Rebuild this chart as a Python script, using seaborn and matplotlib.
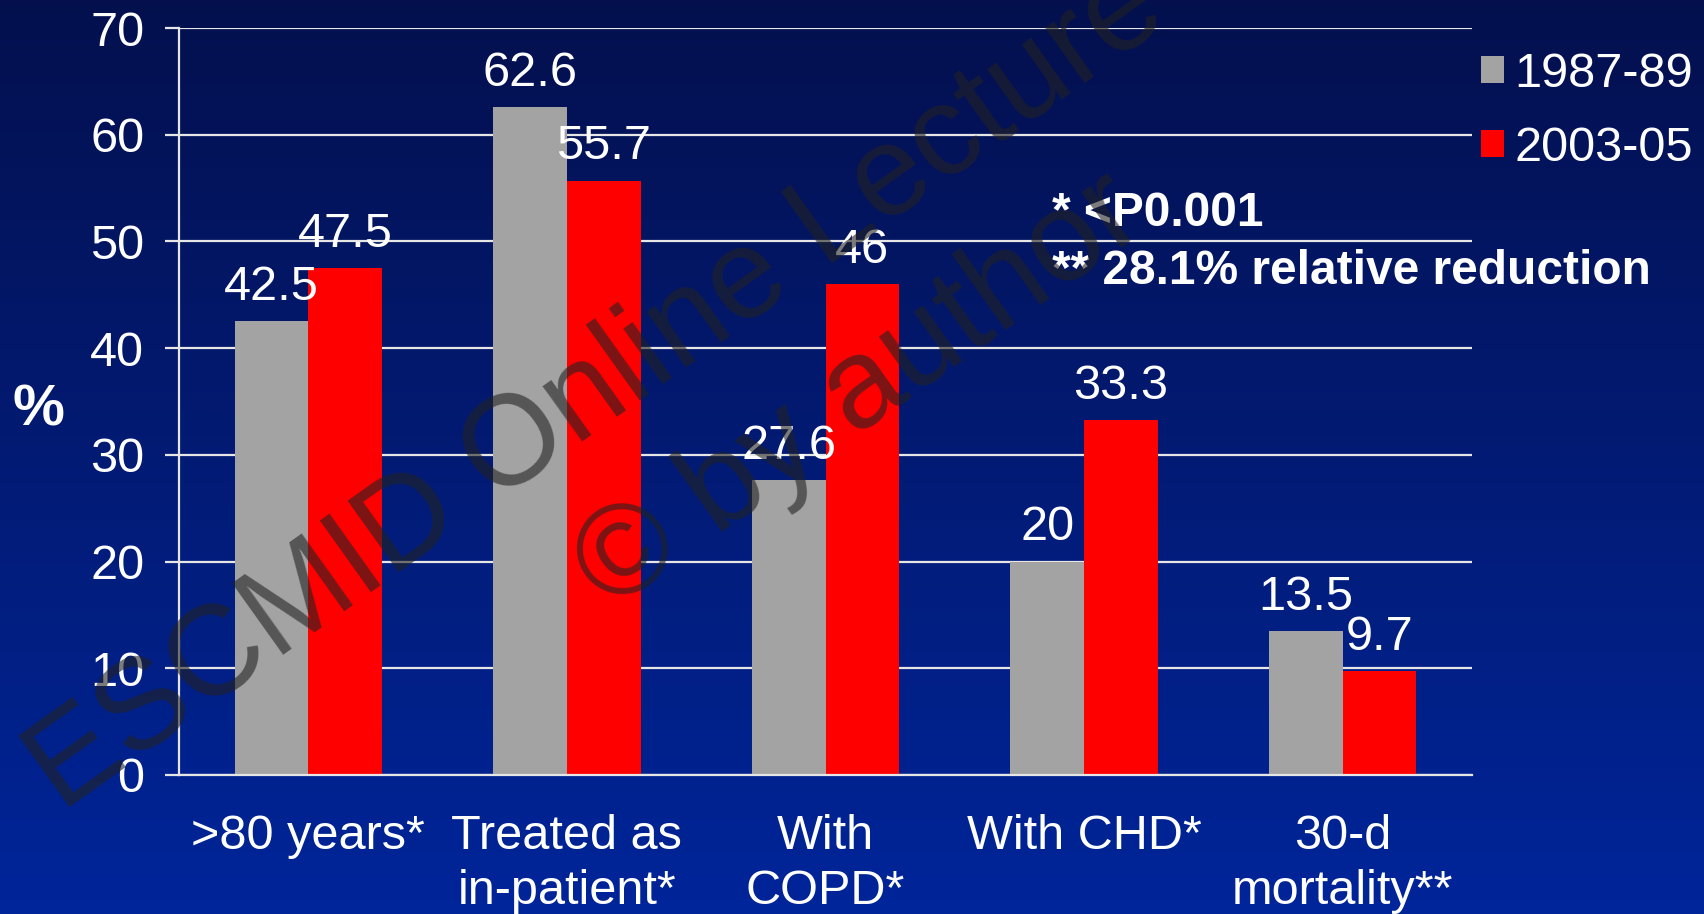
import numpy as np
import pandas as pd
import matplotlib
matplotlib.use("Agg")
import matplotlib.pyplot as plt
import seaborn as sns

categories = [">80 years*", "Treated as\nin-patient*", "With\nCOPD*", "With CHD*", "30-d\nmortality**"]
periods = ["1987-89", "2003-05"]
values_1987_89 = [42.5, 62.6, 27.6, 20, 13.5]
values_2003_05 = [47.5, 55.7, 46, 33.3, 9.7]
value_labels_1987_89 = ["42.5", "62.6", "27.6", "20", "13.5"]
value_labels_2003_05 = ["47.5", "55.7", "46", "33.3", "9.7"]
y_ticks = [0, 10, 20, 30, 40, 50, 60, 70]

df = pd.DataFrame({
    "category": categories * 2,
    "period": [periods[0]] * len(categories) + [periods[1]] * len(categories),
    "value": values_1987_89 + values_2003_05,
})

sns.set_theme(style="white")
plt.rcParams["font.family"] = ["Liberation Sans", "DejaVu Sans"]

W, H = 1704, 914
FS = 35
fig = plt.figure(figsize=(W / 100, H / 100), dpi=100)

# vertical navy-to-blue gradient background
bg = fig.add_axes([0, 0, 1, 1], zorder=-10)
top = np.array([0x04, 0x10, 0x4E]) / 255
bot = np.array([0x00, 0x25, 0x9A]) / 255
t = np.linspace(0, 1, 256)[:, None]
grad = top[None, :] * (1 - t) + bot[None, :] * t
bg.imshow(grad[:, None, :], aspect="auto", extent=[0, 1, 0, 1])
bg.set_axis_off()

# plot area in pixels: x 179..1472, y 28..775
ax = fig.add_axes([179 / W, 1 - 775 / H, (1472 - 179) / W, (775 - 28) / H])
ax.set_facecolor("none")

palette = {"1987-89": "#A3A3A3", "2003-05": "#FF0000"}
sns.barplot(data=df, x="category", y="value", hue="period", hue_order=periods,
            order=categories, palette=palette, width=0.57, saturation=1,
            edgecolor="none", linewidth=0, ax=ax, legend=True)

for container, labels in zip(ax.containers, [value_labels_1987_89, value_labels_2003_05]):
    ax.bar_label(container, labels=labels, padding=8, color="white", fontsize=FS)

ax.set_xlim(-0.5, len(categories) - 0.5)
ax.set_ylim(0, 70)
ax.set_yticks(y_ticks)
ax.set_yticklabels([str(v) for v in y_ticks])
ax.yaxis.grid(True, color="#E6E6E6", linewidth=1.6)
ax.set_axisbelow(True)

# category labels at centers, tick marks at category boundaries
ax.set_xticks(range(len(categories)))
ax.set_xticklabels(categories, linespacing=1.28)
ax.set_xticks(np.arange(-0.5, len(categories), 1.0), minor=True)
ax.tick_params(axis="x", which="major", length=0, pad=28, labelsize=FS, labelcolor="white")
ax.tick_params(axis="x", which="minor", length=10, width=1.6, color="white", direction="out")
ax.tick_params(axis="y", which="major", length=10, width=1.6, color="#E6E6E6",
               direction="out", pad=15, labelsize=FS, labelcolor="white", left=True)

for side in ["top", "right"]:
    ax.spines[side].set_visible(False)
for side in ["left", "bottom"]:
    ax.spines[side].set_color("#E6E6E6")
    ax.spines[side].set_linewidth(1.6)

ax.set_xlabel("")
ax.set_ylabel("")
fig.text(38 / W, 1 - 410 / H, "%", color="white", fontsize=42, fontweight="bold",
         ha="center", va="center")

leg = ax.legend(loc="upper left", bbox_to_anchor=(1481 / W, 1 - 52 / H),
                bbox_transform=fig.transFigure, frameon=False, fontsize=FS,
                handlelength=0.48, handleheight=0.48, handletextpad=0.2,
                labelspacing=0.6, borderaxespad=0, borderpad=0)
for txt in leg.get_texts():
    txt.set_color("white")

fig.text(1052 / W, 1 - 214 / H, "* <P0.001", color="white", fontsize=34.5,
         fontweight="bold", ha="left", va="center")
fig.text(1052 / W, 1 - 271 / H, "** 28.1% relative reduction", color="white", fontsize=34.5,
         fontweight="bold", ha="left", va="center")

# diagonal watermark
wm = dict(color="#222222", alpha=0.6, fontsize=92, rotation=35.5,
          rotation_mode="anchor", ha="center", va="center", zorder=100)
fig.text(597 / W, 1 - 391 / H, "ESCMID Online Lecture", **wm)
fig.text(861 / W, 1 - 393 / H, "© by author", **wm)

fig.savefig("out.png", dpi=100)
